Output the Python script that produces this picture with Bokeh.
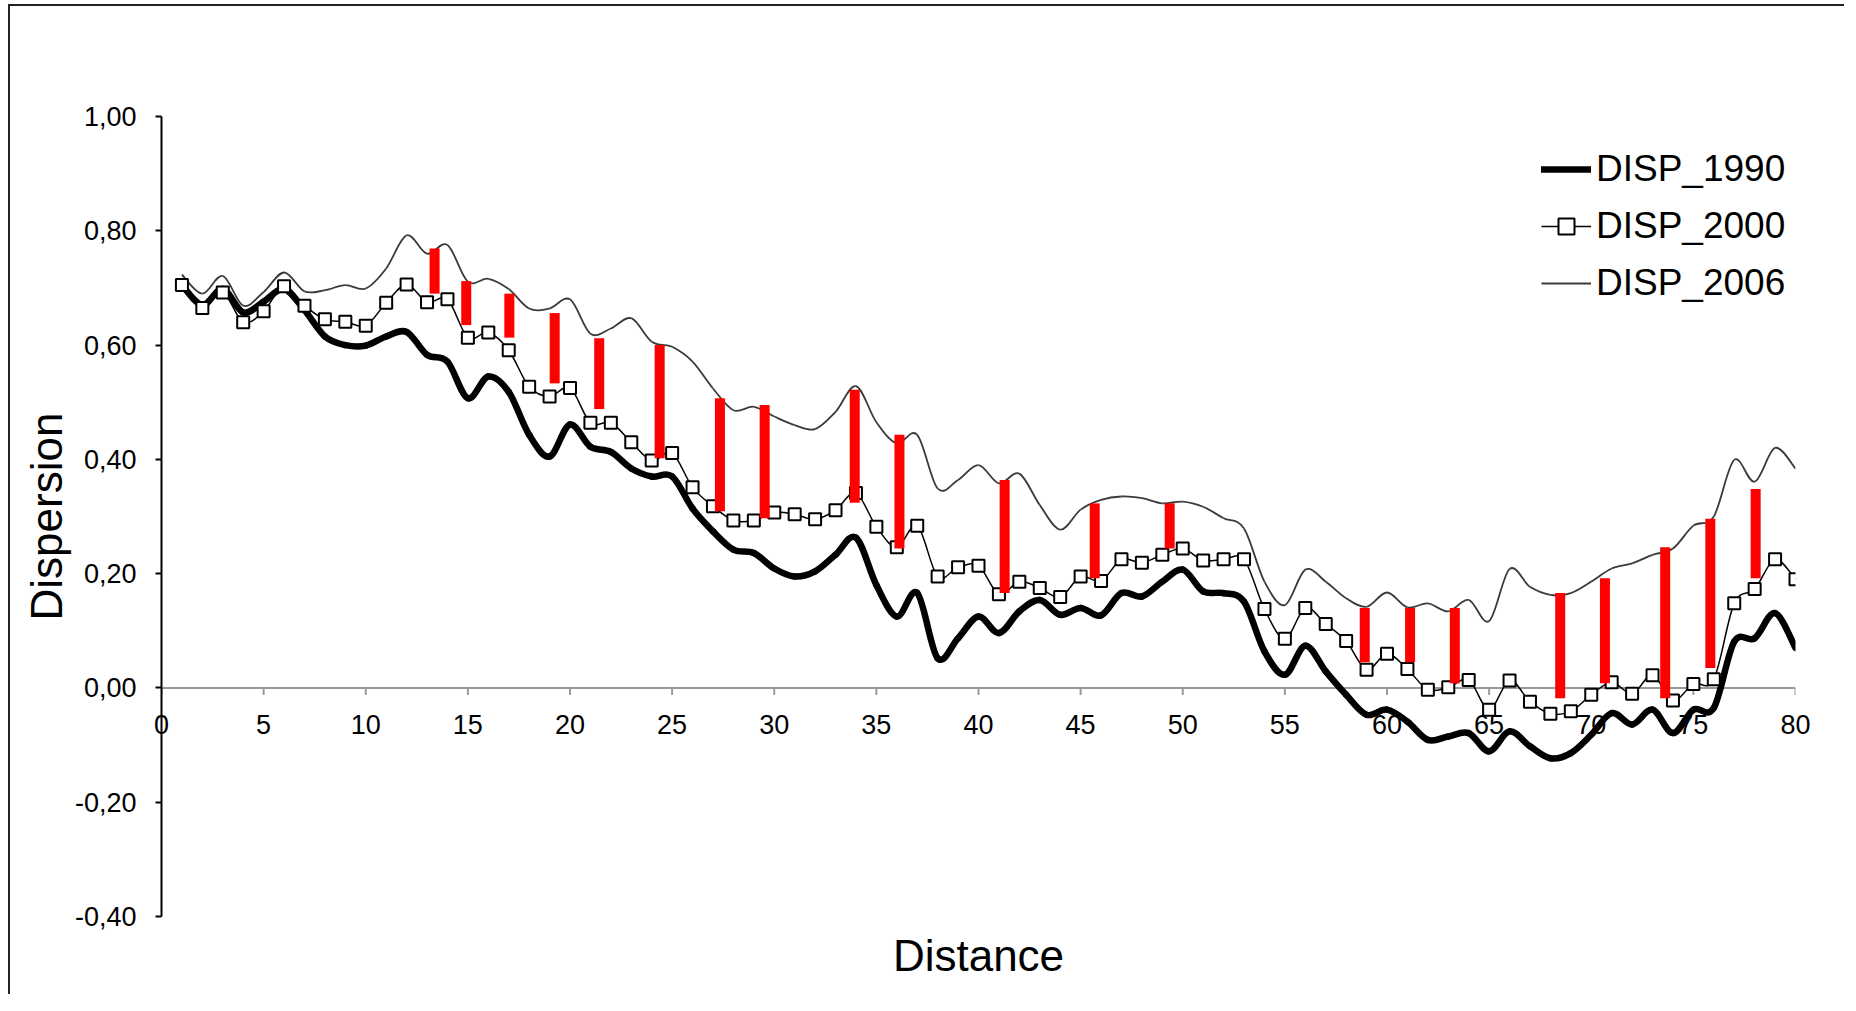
import numpy as np
from bokeh.plotting import figure
from bokeh.models import (Range1d, FixedTicker, CustomJSTickFormatter, Span,
                          Legend, LegendItem, ColumnDataSource)
from bokeh.embed import file_html
from bokeh.resources import INLINE

# ---------------- data ----------------
DISTANCE = list(range(1, 81))

DISP_1990 = [0.705, 0.670, 0.698, 0.657, 0.676, 0.698, 0.661, 0.615, 0.600, 0.599,
             0.615, 0.623, 0.583, 0.571, 0.507, 0.545, 0.518, 0.443, 0.405, 0.461,
             0.422, 0.413, 0.384, 0.370, 0.370, 0.314, 0.274, 0.242, 0.236, 0.209,
             0.195, 0.204, 0.233, 0.263, 0.180, 0.125, 0.166, 0.052, 0.087, 0.125,
             0.096, 0.134, 0.154, 0.128, 0.140, 0.127, 0.166, 0.160, 0.186, 0.207,
             0.169, 0.166, 0.151, 0.064, 0.023, 0.074, 0.029, -0.012, -0.047, -0.038,
             -0.059, -0.091, -0.085, -0.079, -0.111, -0.076, -0.102, -0.123, -0.114, -0.082,
             -0.044, -0.064, -0.038, -0.079, -0.038, -0.035, 0.081, 0.087, 0.131, 0.070]

DISP_2000 = [0.705, 0.665, 0.692, 0.640, 0.659, 0.703, 0.669, 0.645, 0.641, 0.634,
             0.674, 0.706, 0.675, 0.680, 0.613, 0.622, 0.591, 0.527, 0.510, 0.525,
             0.464, 0.464, 0.430, 0.398, 0.411, 0.351, 0.318, 0.293, 0.293, 0.307,
             0.304, 0.295, 0.311, 0.341, 0.282, 0.246, 0.284, 0.195, 0.211, 0.214,
             0.164, 0.186, 0.175, 0.159, 0.195, 0.187, 0.225, 0.219, 0.233, 0.244,
             0.223, 0.225, 0.225, 0.138, 0.086, 0.140, 0.112, 0.082, 0.032, 0.060,
             0.033, -0.003, 0.001, 0.014, -0.038, 0.013, -0.024, -0.045, -0.041, -0.012,
             0.010, -0.010, 0.022, -0.022, 0.007, 0.015, 0.148, 0.173, 0.225, 0.190]

DISP_2006 = [0.723, 0.690, 0.721, 0.669, 0.693, 0.727, 0.694, 0.696, 0.705, 0.699,
             0.734, 0.792, 0.760, 0.775, 0.711, 0.716, 0.698, 0.664, 0.664, 0.680,
             0.620, 0.629, 0.647, 0.606, 0.597, 0.571, 0.524, 0.486, 0.492, 0.475,
             0.460, 0.453, 0.483, 0.528, 0.465, 0.428, 0.443, 0.349, 0.364, 0.390,
             0.358, 0.375, 0.320, 0.277, 0.312, 0.329, 0.335, 0.332, 0.323, 0.326,
             0.317, 0.297, 0.279, 0.186, 0.145, 0.207, 0.186, 0.157, 0.142, 0.167,
             0.141, 0.148, 0.134, 0.154, 0.117, 0.208, 0.177, 0.163, 0.166, 0.186,
             0.209, 0.218, 0.233, 0.244, 0.284, 0.300, 0.399, 0.361, 0.420, 0.384]

GAP_X = [13.37, 14.92, 17.03, 19.25, 21.43, 24.39, 27.34, 29.53, 33.94, 36.13, 41.28,
         45.69, 49.36, 58.91, 61.13, 63.32, 68.48, 70.67, 73.62, 75.83, 78.05]
GAP_HIGH = [0.769, 0.712, 0.690, 0.656, 0.612, 0.600, 0.507, 0.495, 0.522, 0.443, 0.364,
            0.323, 0.323, 0.140, 0.140, 0.140, 0.166, 0.192, 0.246, 0.296, 0.348]
GAP_LOW = [0.690, 0.635, 0.613, 0.533, 0.488, 0.402, 0.309, 0.297, 0.324, 0.244, 0.166,
           0.192, 0.244, 0.045, 0.045, 0.008, -0.018, 0.008, -0.018, 0.035, 0.192]

X_TICKS = [0, 5, 10, 15, 20, 25, 30, 35, 40, 45, 50, 55, 60, 65, 70, 75, 80]
X_TICK_LABELS = [str(t) for t in X_TICKS]
Y_TICKS = [-0.4, -0.2, 0.0, 0.2, 0.4, 0.6, 0.8, 1.0]

FONT = "Liberation Sans"

# ---------------- geometry ----------------
W, H = 1836, 990
FRAME_W, FRAME_H = 1634, 800
ML, MT = 151, 110
MR = W - ML - FRAME_W
MB = H - MT - FRAME_H
Y0, Y1 = -0.4, 1.0
PX_PER_UNIT = FRAME_H / (Y1 - Y0)
ZERO_ABOVE_BOTTOM = (0 - Y0) * PX_PER_UNIT   # pixels from frame bottom up to y = 0


def smooth(xs, ys):
    """Bezier control points (Catmull-Rom style, as in spreadsheet smoothed lines)."""
    x = np.asarray(xs, float)
    y = np.asarray(ys, float)
    xp = np.concatenate([[x[0]], x, [x[-1]]])
    yp = np.concatenate([[y[0]], y, [y[-1]]])
    i = np.arange(len(x) - 1)
    x0, y0 = xp[i + 1], yp[i + 1]
    x1, y1 = xp[i + 2], yp[i + 2]
    cx0 = x0 + (x1 - xp[i]) / 6.0
    cy0 = y0 + (y1 - yp[i]) / 6.0
    cx1 = x1 - (xp[i + 3] - x0) / 6.0
    cy1 = y1 - (yp[i + 3] - y0) / 6.0
    return ColumnDataSource(dict(x0=x0, y0=y0, x1=x1, y1=y1,
                                 cx0=cx0, cy0=cy0, cx1=cx1, cy1=cy1))


p = figure(width=W, height=H, output_backend="svg", toolbar_location=None,
           x_range=Range1d(0, 80), y_range=Range1d(Y0, Y1),
           min_border_left=ML, min_border_right=MR,
           min_border_top=MT, min_border_bottom=MB,
           background_fill_color="white", border_fill_color="white")
p.styles = {"border-left": "2px solid #222222", "border-top": "2px solid #222222",
            "margin-left": "8px", "margin-top": "4px"}
p.outline_line_color = None
p.xgrid.visible = False
p.ygrid.visible = False

# y axis
yax = p.yaxis[0]
yax.ticker = FixedTicker(ticks=Y_TICKS)
yax.formatter = CustomJSTickFormatter(code="return tick.toFixed(2).replace('.', ',');")
yax.axis_line_color = "black"
yax.axis_line_width = 2
yax.major_tick_line_color = "black"
yax.major_tick_line_width = 2
yax.major_tick_out = 6
yax.major_tick_in = 0
yax.minor_tick_out = 0
yax.minor_tick_in = 0
yax.major_label_standoff = 19
yax.major_label_text_font = FONT
yax.major_label_text_font_size = "27px"
yax.major_label_text_color = "black"
yax.axis_label = "Dispersion"
yax.axis_label_text_font = FONT
yax.axis_label_text_font_size = "44px"
yax.axis_label_text_font_style = "normal"
yax.axis_label_text_color = "black"
yax.axis_label_standoff = 1

# x axis: its labels are lifted to sit under the line at y = 0
xax = p.xaxis[0]
xax.ticker = FixedTicker(ticks=X_TICKS)
xax.major_label_overrides = {t: lbl for t, lbl in zip(X_TICKS, X_TICK_LABELS)}
xax.axis_line_color = None
xax.major_tick_line_color = None
xax.major_tick_out = 0
xax.major_tick_in = 0
xax.minor_tick_out = 0
xax.minor_tick_in = 0
LIFT = int(round(ZERO_ABOVE_BOTTOM - 27))
xax.major_label_standoff = -LIFT
xax.major_label_text_font = FONT
xax.major_label_text_font_size = "27px"
xax.major_label_text_color = "black"
xax.axis_label = "Distance"
xax.axis_label_text_font = FONT
xax.axis_label_text_font_size = "44px"
xax.axis_label_text_font_style = "normal"
xax.axis_label_text_color = "black"
xax.axis_label_standoff = LIFT - 8

# horizontal axis line and ticks at y = 0
p.add_layout(Span(location=0, dimension="width", line_color="#999999",
                  line_width=2, level="underlay"))
tick_len = 7 / PX_PER_UNIT
p.segment(x0=X_TICKS, y0=[0] * len(X_TICKS), x1=X_TICKS, y1=[-tick_len] * len(X_TICKS),
          line_color="#999999", line_width=2, level="underlay")

# series
r2006 = p.bezier(source=smooth(DISTANCE, DISP_2006), x0="x0", y0="y0", x1="x1", y1="y1",
                 cx0="cx0", cy0="cy0", cx1="cx1", cy1="cy1",
                 line_color="#3a3a3a", line_width=1.8)
r1990 = p.bezier(source=smooth(DISTANCE, DISP_1990), x0="x0", y0="y0", x1="x1", y1="y1",
                 cx0="cx0", cy0="cy0", cx1="cx1", cy1="cy1",
                 line_color="black", line_width=6.5, line_cap="round")
r2000 = p.bezier(source=smooth(DISTANCE, DISP_2000), x0="x0", y0="y0", x1="x1", y1="y1",
                 cx0="cx0", cy0="cy0", cx1="cx1", cy1="cy1",
                 line_color="black", line_width=1.5)
m2000 = p.scatter(x=DISTANCE, y=DISP_2000, marker="square", size=12,
                  line_color="black", line_width=2, fill_color="white")

# red gap bars
p.vbar(x=GAP_X, bottom=GAP_LOW, top=GAP_HIGH, width=0.49,
       fill_color="#ff0000", line_color=None)

legend = Legend(items=[
    LegendItem(label="DISP_1990", renderers=[r1990]),
    LegendItem(label="DISP_2000", renderers=[r2000, m2000]),
    LegendItem(label="DISP_2006", renderers=[r2006]),
], location=(1380, 612), padding=0, margin=0, spacing=15,
    glyph_width=50, glyph_height=40, label_height=40, label_standoff=5,
    label_text_font=FONT, label_text_font_size="37px", label_text_color="black",
    border_line_alpha=0, background_fill_alpha=0)
p.add_layout(legend)

open("out.html", "w").write(file_html(p, INLINE))
